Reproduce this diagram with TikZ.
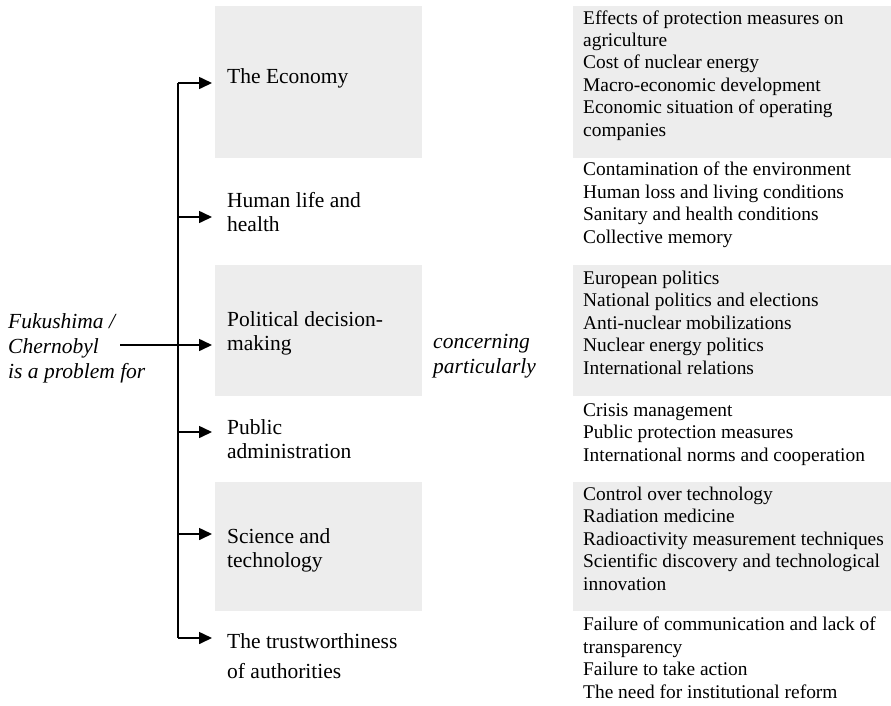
\documentclass[tikz,border=0pt]{standalone}
\usepackage{fontspec}
\setmainfont{Liberation Serif}
\usetikzlibrary{arrows.meta}
\definecolor{boxgray}{RGB}{237,237,237}
\begin{document}
\begin{tikzpicture}[x=1pt,y=-1pt,
  boxfill/.style={fill=boxgray},
  cat/.style={anchor=base west, align=left, inner xsep=15pt, inner ysep=0pt, font=\fontsize{21.5}{24}\selectfont},
  item/.style={anchor=base west, align=left, inner sep=0pt, font=\fontsize{19.4}{22.4}\selectfont},
  src/.style={anchor=base west, align=left, inner sep=0pt, font=\fontsize{21.5}{25}\selectfont\itshape},
  arr/.style={line width=1.6pt, -{Triangle[length=13pt,width=12pt]}},
  trunk/.style={line width=1.6pt}]
\useasboundingbox (0,0) rectangle (891,705);
% background boxes
\fill[boxfill] (215,6) rectangle (422,158);
\fill[boxfill] (573,6) rectangle (891,158);
\fill[boxfill] (215,265) rectangle (422,396);
\fill[boxfill] (573,265) rectangle (891,396);
\fill[boxfill] (215,482) rectangle (422,611);
\fill[boxfill] (573,482) rectangle (891,611);
% source (base anchor = baseline of last line)
\node[src] (source) at (8,378) {Fukushima /\\Chernobyl\\is a problem for};
\coordinate (fstart) at (120,345);
% categories
\node[cat] (econ) at (212,83) {The Economy};
\node[cat] (human) at (212,231) {Human life and\\health};
\node[cat] (polit) at (212,350) {Political decision-\\making};
\node[cat] (admin) at (212,458) {Public\\administration};
\node[cat] (sci) at (212,567) {Science and\\technology};
\node[cat, font=\fontsize{21.5}{30}\selectfont] (trust) at (212,678) {The trustworthiness\\of authorities};
% middle label
\node[src] (conc) at (433,373) {concerning\\particularly};
% items
\node[item] (econI) at (583,136) {Effects of protection measures on\\agriculture\\Cost of nuclear energy\\Macro-economic development\\Economic situation of operating\\companies};
\node[item] (humanI) at (583,243) {Contamination of the environment\\Human loss and living conditions\\Sanitary and health conditions\\Collective memory};
\node[item] (politI) at (583,374) {European politics\\National politics and elections\\Anti-nuclear mobilizations\\Nuclear energy politics\\International relations};
\node[item] (adminI) at (583,461) {Crisis management\\Public protection measures\\International norms and cooperation};
\node[item] (sciI) at (583,590) {Control over technology\\Radiation medicine\\Radioactivity measurement techniques\\Scientific discovery and technological\\innovation};
\node[item] (trustI) at (583,698) {Failure of communication and lack of\\transparency\\Failure to take action\\The need for institutional reform};
% connectors
\coordinate (j1) at (178,83);
\coordinate (j2) at (178,217);
\coordinate (j3) at (178,345);
\coordinate (j4) at (178,432);
\coordinate (j5) at (178,534);
\coordinate (j6) at (178,638);
\draw[trunk] (j1) -- (j6);
\draw[arr] (j1) -- (j1 -| econ.west);
\draw[arr] (j2) -- (j2 -| human.west);
\draw[arr] (fstart) -- (j3 -| polit.west);
\draw[arr] (j4) -- (j4 -| admin.west);
\draw[arr] (j5) -- (j5 -| sci.west);
\draw[arr] (j6) -- (j6 -| trust.west);
\end{tikzpicture}
\end{document}
